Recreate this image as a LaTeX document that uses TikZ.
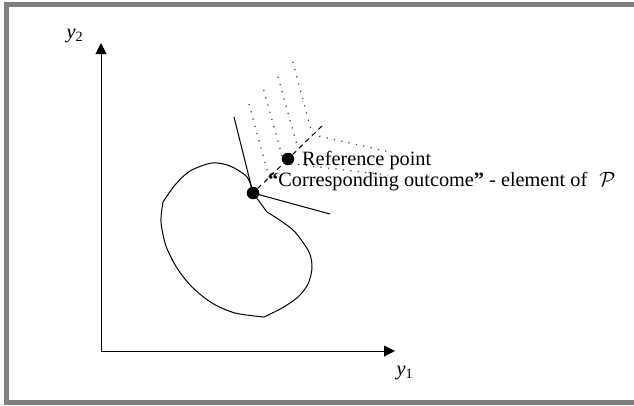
\documentclass[tikz,border=0pt]{standalone}
\usepackage{fontspec}
\setmainfont{Liberation Serif}
\usetikzlibrary{arrows.meta}

\begin{document}
\begin{tikzpicture}[
    x=1pt, y=-1pt,
    axis/.style={-{Triangle[length=11pt,width=11pt]}, line width=1pt},
    curve/.style={line width=1pt, line join=round},
    dot/.style={circle, fill, inner sep=0pt, minimum size=12.5pt},
    contour/.style={line width=1.2pt, black!75, dash pattern=on 1.2pt off 6.3pt},
    lbl/.style={font=\fontsize{20.3}{24}\selectfont, inner sep=0pt}
]
\useasboundingbox (0,0) rectangle (634,405);

% frame
\fill[gray] (4,2) rectangle (634,7);
\fill[gray] (4,2) rectangle (9,405);
\fill[gray] (4,400) rectangle (634,405);

% axes
\coordinate (origin) at (101,351);
\coordinate (y1tip) at (395,351);
\coordinate (y2tip) at (101,43);
\draw[axis] (origin) -- (y1tip);
\draw[axis] (origin) -- (y2tip);
\node[lbl] (y1lab) at (405,373) {\textit{y}\textsubscript{1}};
\node[lbl] (y2lab) at (75,36) {\textit{y}\textsubscript{2}};

% points
\node[dot] (co) at (253,193) {};
\node[dot] (rp) at (288,159) {};

% outcome set
\draw[curve] (co.center)
    plot[smooth] coordinates {(253,193) (247,177) (230,166) (212,163) (190,171) (175,185) (163,202)}
    -- plot[smooth] coordinates {(163,202) (161,222) (166,246) (177,268) (192,287) (212,303) (235,313) (264,317)}
    -- plot[smooth] coordinates {(264,317) (282,308) (298,297) (308,284) (312,268) (309,252) (295,232) (281,221) (267,212)}
    -- (co.center);

% supporting lines
\coordinate (tanA) at (234,117);
\coordinate (tanB) at (330,214);
\draw[curve] (tanA) -- (co.center) -- (tanB);

% direction through the reference point
\coordinate (dashend) at (323,125);
\draw[line width=1pt, dash pattern=on 5pt off 4pt] (co) -- (rp) -- (dashend);

% level sets
\draw[contour] (249,104) -- (269,177);
\draw[contour] (263.7,90) -- (284,163) -- (388,175);
\draw[contour] (278,76.7) -- (298,149);
\draw[contour] (292.7,61.7) -- (312.4,134.6) -- (390,152);

% labels
\node[lbl, anchor=base west] (rptext) at (302,165) {Reference point};
\node[lbl, anchor=base west] (cotext) at (268,186)
    {{\bfseries “}Corresponding outcome{\bfseries ”} - element of\hspace{0.6em}$\mathcal{P}$};

\end{tikzpicture}
\end{document}
